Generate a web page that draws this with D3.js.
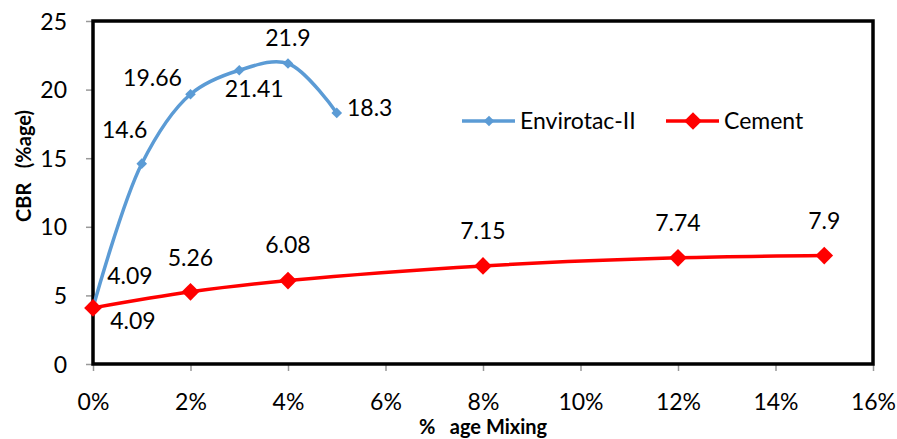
<!DOCTYPE html>
<html>
<head>
<meta charset="utf-8">
<script src="https://cdn.jsdelivr.net/npm/d3@7"></script>
<style>
  body { margin: 0; background: #fff; }
  svg { display: block; font-family: Lato, "Open Sans", sans-serif; }
</style>
</head>
<body>
<svg id="chart" width="897" height="439"></svg>
<script>
// Mixing percentage and CBR values for each additive
const envirotacMix = [0, 1, 2, 3, 4, 5];
const envirotacCBR = [4.09, 14.6, 19.66, 21.41, 21.9, 18.3];
const cementMix = [0, 2, 4, 8, 12, 15];
const cementCBR = [4.09, 5.26, 6.08, 7.15, 7.74, 7.9];
const xTicks = [0, 2, 4, 6, 8, 10, 12, 14, 16];
const yTicks = [0, 5, 10, 15, 20, 25];
const seriesNames = ["Envirotac-II", "Cement"];

// label placement offsets (dx, dy) relative to each point
const envLabelPos = [[37, -32], [-17, -34], [-38, -16], [15, 19], [0, -26], [33, -5]];
const cemLabelPos = [[40, 13], [0, -34], [0, -36], [0, -35], [0, -35], [0, -35]];

const svg = d3.select("#chart");
const plotL = 93, plotR = 873, plotT = 21, plotB = 364;
const fontSize = "23px";

const x = d3.scaleLinear().domain([0, 16]).range([plotL, plotR]);
const y = d3.scaleLinear().domain([0, 25]).range([plotB, plotT]);

// axes with gray tick marks
const xAxis = d3.axisBottom(x).tickValues(xTicks).tickSize(7).tickFormat(d => d + "%");
const yAxis = d3.axisLeft(y).tickValues(yTicks).tickSize(7);

const gx = svg.append("g").attr("transform", `translate(0,${plotB})`).call(xAxis);
const gy = svg.append("g").attr("transform", `translate(${plotL},0)`).call(yAxis);
[gx, gy].forEach(g => {
  g.select(".domain").remove();
  g.selectAll("line").attr("stroke", "#999").attr("stroke-width", 1.5);
  g.selectAll("text").attr("fill", "#000").style("font-size", fontSize)
    .style("font-family", "Lato, 'Open Sans', sans-serif");
});
gx.selectAll("text").attr("y", 38).attr("dy", "0.35em");
gy.selectAll("text").attr("x", -26).attr("dy", "0.35em");

// plot frame
svg.append("rect")
  .attr("x", plotL).attr("y", plotT)
  .attr("width", plotR - plotL).attr("height", plotB - plotT)
  .attr("fill", "none").attr("stroke", "#000").attr("stroke-width", 3.5);

// axis titles
svg.append("text")
  .attr("transform", "translate(31,166) rotate(-90)")
  .attr("text-anchor", "middle").attr("font-weight", "bold").style("font-size", "20px")
  .attr("xml:space", "preserve")
  .text("CBR   (%age)");
svg.append("text")
  .attr("x", 483).attr("y", 434)
  .attr("text-anchor", "middle").attr("font-weight", "bold").style("font-size", "20px")
  .attr("xml:space", "preserve")
  .text("%   age Mixing");

const line = d3.line().curve(d3.curveCatmullRom.alpha(0.5)).x(d => x(d[0])).y(d => y(d[1]));

function drawSeries(mix, vals, color, markerSize, labelPos) {
  const pts = mix.map((m, i) => [m, vals[i]]);
  svg.append("path").datum(pts).attr("d", line)
    .attr("fill", "none").attr("stroke", color).attr("stroke-width", 3.5);
  const sym = d3.symbol().type(d3.symbolDiamond2).size(markerSize);
  svg.selectAll(null).data(pts).enter().append("path")
    .attr("d", sym)
    .attr("transform", d => `translate(${x(d[0])},${y(d[1])})`)
    .attr("fill", color);
  svg.selectAll(null).data(pts).enter().append("text")
    .attr("x", (d, i) => x(d[0]) + labelPos[i][0])
    .attr("y", (d, i) => y(d[1]) + labelPos[i][1])
    .attr("text-anchor", "middle").attr("dy", "0.35em")
    .style("font-size", fontSize)
    .text(d => d[1]);
}

drawSeries(envirotacMix, envirotacCBR, "#5B9BD5", 72, envLabelPos);
drawSeries(cementMix, cementCBR, "#FF0000", 200, cemLabelPos);

// legend
const legend = [
  { name: seriesNames[0], color: "#5B9BD5", size: 72, x0: 462 },
  { name: seriesNames[1], color: "#FF0000", size: 200, x0: 666 }
];
legend.forEach(l => {
  const ly = 121;
  svg.append("line").attr("x1", l.x0).attr("x2", l.x0 + 53).attr("y1", ly).attr("y2", ly)
    .attr("stroke", l.color).attr("stroke-width", 3.5);
  svg.append("path").attr("d", d3.symbol().type(d3.symbolDiamond2).size(l.size)())
    .attr("transform", `translate(${l.x0 + 27},${ly})`).attr("fill", l.color);
  svg.append("text").attr("x", l.x0 + 58).attr("y", ly).attr("dy", "0.35em")
    .style("font-size", fontSize).text(l.name);
});
</script>
</body>
</html>
